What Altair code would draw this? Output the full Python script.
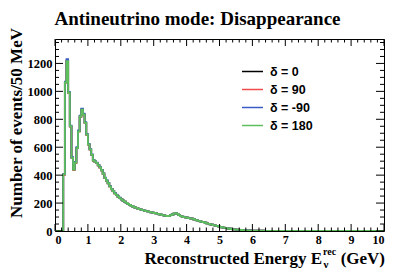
import altair as alt
import pandas as pd

# ---- data ----
bin_width = 0.05          # GeV, 200 bins from 0 to 10 GeV

# bins 0.00 .. 1.95 GeV (40 bins), one list per delta_CP
low_d0 = [0, 0, 0, 0, 0, 405, 1065, 1220, 990, 750,
          525, 440, 490, 595, 715, 820, 870, 835, 775, 690,
          620, 585, 545, 505, 497, 488, 470, 455, 435, 410,
          380, 360, 342, 320, 300, 285, 270, 258, 246, 236]
low_d90 = [0, 0, 0, 0, 0, 403, 1062, 1216, 987, 748,
           523, 438, 488, 593, 712, 817, 866, 832, 772, 688,
           618, 583, 543, 504, 496, 487, 469, 454, 434, 409,
           379, 359, 341, 319, 299, 284, 269, 257, 245, 235]
low_dm90 = [0, 0, 0, 0, 0, 408, 1070, 1230, 997, 755,
            528, 443, 495, 600, 721, 826, 876, 840, 780, 694,
            623, 588, 548, 508, 499, 490, 472, 457, 437, 412,
            382, 362, 344, 322, 302, 287, 272, 260, 248, 238]
low_d180 = [0, 0, 0, 0, 0, 405, 1064, 1217, 990, 750,
            524, 440, 489, 594, 714, 820, 869, 834, 774, 690,
            620, 585, 545, 505, 497, 488, 470, 455, 435, 410,
            380, 360, 342, 320, 300, 285, 270, 258, 246, 236]

# bins 2.00 .. 9.95 GeV (160 bins), indistinguishable between the four curves
tail_counts = [226, 218, 210, 202, 194, 187, 180, 175, 170, 165,
               160, 156, 153, 150, 146, 143, 140, 137, 134, 132,
               129, 126, 123, 120, 117, 114, 111, 108, 107, 109,
               113, 118, 124, 127, 123, 114, 107, 103, 100, 97,
               95, 92, 91, 88, 84, 80, 76, 72, 69, 66,
               63, 59, 55, 51, 48, 45, 42, 39, 36, 33,
               30, 27, 24, 22, 20, 18, 16, 14, 12, 11,
               10, 9, 8, 7, 6, 5, 5, 4, 4, 3,
               3, 3, 2, 2, 2, 2, 2, 1, 1, 1,
               1, 1, 1, 1, 1, 1, 1, 1, 1, 1,
               0, 0, 0, 0, 0, 0, 0, 0, 0, 0,
               0, 0, 0, 0, 0, 0, 0, 0, 0, 0,
               0, 0, 0, 0, 0, 0, 0, 0, 0, 0,
               0, 0, 0, 0, 0, 0, 0, 0, 0, 0,
               0, 0, 0, 0, 0, 0, 0, 0, 0, 0,
               0, 0, 0, 0, 0, 0, 0, 0, 0, 0]

series_labels = ["δ = 0", "δ = 90", "δ = -90", "δ = 180"]
series_low = [low_d0, low_d90, low_dm90, low_d180]
series_colors = ["#000000", "#f24b4b", "#3b5cc4", "#5cbf5c"]

x_major = [0, 1, 2, 3, 4, 5, 6, 7, 8, 9, 10]
x_minor = [0.2, 0.4, 0.6, 0.8, 1.2, 1.4, 1.6, 1.8, 2.2, 2.4, 2.6, 2.8,
           3.2, 3.4, 3.6, 3.8, 4.2, 4.4, 4.6, 4.8, 5.2, 5.4, 5.6, 5.8,
           6.2, 6.4, 6.6, 6.8, 7.2, 7.4, 7.6, 7.8, 8.2, 8.4, 8.6, 8.8,
           9.2, 9.4, 9.6, 9.8]
y_major = [0, 200, 400, 600, 800, 1000, 1200]
y_minor = [50, 100, 150, 250, 300, 350, 450, 500, 550, 650, 700, 750,
           850, 900, 950, 1050, 1100, 1150, 1250, 1300, 1350]

title_text = "Antineutrino mode: Disappearance"
ytitle_text = "Number of events/50 MeV"

# ---- build table ----
rows = []
for lab, low in zip(series_labels, series_low):
    counts = low + tail_counts
    for i, c in enumerate(counts):
        rows.append({"delta": lab, "E": round(i * bin_width, 2), "N": c})
    rows.append({"delta": lab, "E": 10.0, "N": counts[-1]})
df = pd.DataFrame(rows)

W, H = 329, 192
XDOM = [0, 10]
YDOM = [0, 1375]
SERIF = "Liberation Serif"
SANS = "Liberation Sans"

xscale = alt.Scale(domain=XDOM, nice=False, zero=False)
yscale = alt.Scale(domain=YDOM, nice=False)
cscale = alt.Scale(domain=series_labels, range=series_colors)

xaxis = alt.Axis(values=x_major, format="d", title=None, ticks=False, domain=False,
                 grid=False, labelFont=SERIF, labelFontWeight="bold",
                 labelFontSize=12, labelColor="black", labelPadding=3)
yaxis = alt.Axis(values=y_major, format="d", title=None, ticks=False, domain=False,
                 grid=False, labelFont=SERIF, labelFontWeight="bold",
                 labelFontSize=12.5, labelColor="black", labelPadding=3)

line_layers = []
for k, lab in enumerate(series_labels):
    line_layers.append(
        alt.Chart(df).transform_filter(alt.datum.delta == lab)
        .mark_line(interpolate="step-after", strokeWidth=1.8, clip=True)
        .encode(
            x=alt.X("E:Q", scale=xscale, axis=xaxis),
            y=alt.Y("N:Q", scale=yscale, axis=yaxis),
            color=alt.Color("delta:N", scale=cscale, sort=series_labels,
                            legend=alt.Legend(orient="none", legendX=186, legendY=21,
                                              title=None, symbolType="stroke",
                                              symbolSize=441, symbolStrokeWidth=1.5,
                                              labelFont=SANS, labelFontWeight="bold",
                                              labelFontSize=12.5, labelColor="black",
                                              labelOffset=6, rowPadding=0)),
        )
    )

# inward ticks on all four sides
xmaj = pd.DataFrame({"E": x_major})
xmin = pd.DataFrame({"E": x_minor})
ymaj = pd.DataFrame({"N": y_major})
ymin = pd.DataFrame({"N": y_minor})

def xticks(d, y0, y1):
    return alt.Chart(d).mark_rule(color="black", strokeWidth=1).encode(
        x=alt.X("E:Q", scale=xscale, axis=xaxis), y=alt.value(y0), y2=alt.value(y1))

def yticks(d, x0, x1):
    return alt.Chart(d).mark_rule(color="black", strokeWidth=1).encode(
        y=alt.Y("N:Q", scale=yscale, axis=yaxis), x=alt.value(x0), x2=alt.value(x1))

tick_layers = [
    xticks(xmaj, H, H - 7), xticks(xmin, H, H - 3.5),
    xticks(xmaj, 0, 7), xticks(xmin, 0, 3.5),
    yticks(ymaj, 0, 8), yticks(ymin, 0, 4),
    yticks(ymaj, W, W - 8), yticks(ymin, W, W - 4),
]

def text(t, x, y, size, align="center", baseline="alphabetic", angle=0, font=SERIF):
    return alt.Chart(pd.DataFrame({"t": [t]})).mark_text(
        align=align, baseline=baseline, angle=angle, font=font, fontWeight="bold",
        fontSize=size, color="black").encode(
        text="t:N", x=alt.value(x), y=alt.value(y))

text_layers = [
    text(title_text, 142.5, -14, 19),
    text(ytitle_text, -38, 84, 17, baseline="middle", angle=270),
    text("Reconstructed Energy E", 267, 225, 17, align="right"),
    text("rec", 268, 216, 10, align="left"),
    text("ν", 268.5, 229, 11, align="left"),
    text("(GeV)", 330, 225, 17, align="right"),
]

chart = alt.layer(*line_layers, *tick_layers, *text_layers).properties(
    width=W, height=H,
    padding={"left": 47, "top": 31, "right": 5, "bottom": 44},
    autosize=alt.AutoSizeParams(type="none"),
).configure_view(stroke="black", strokeWidth=1)

chart.save("out.html", embed_options={"renderer": "svg", "actions": False})
